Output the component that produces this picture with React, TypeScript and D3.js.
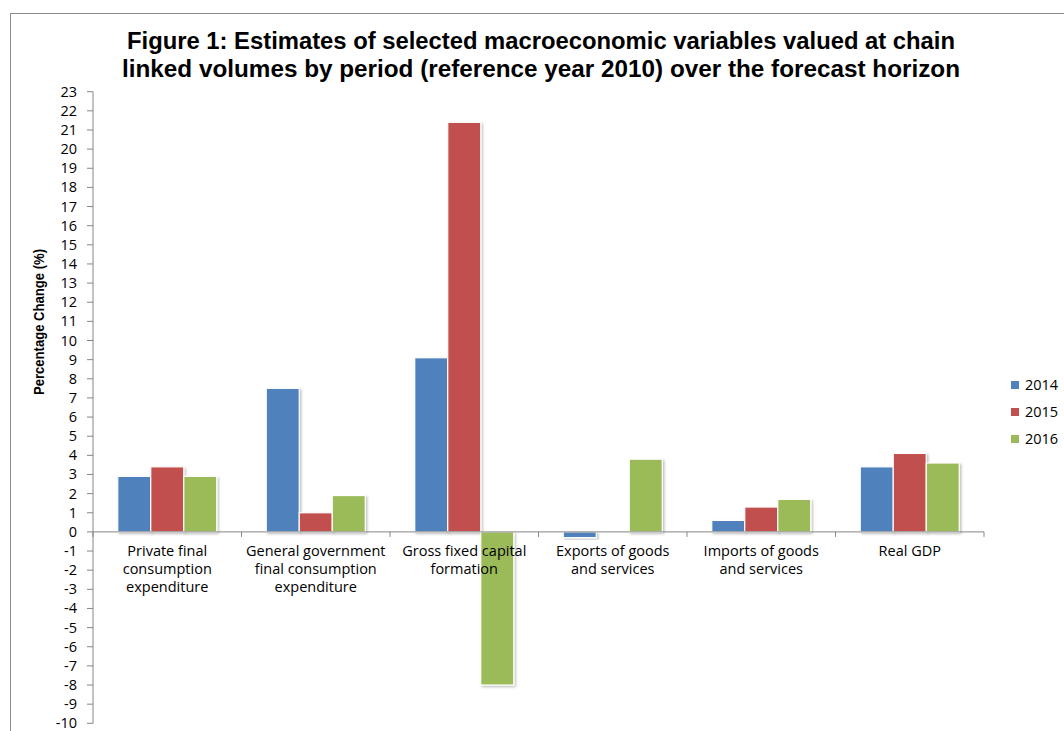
import React from "react";
import * as d3 from "d3";

const categories = [
  ["Private final", "consumption", "expenditure"],
  ["General government", "final consumption", "expenditure"],
  ["Gross fixed capital", "formation"],
  ["Exports of goods", "and services"],
  ["Imports of goods", "and services"],
  ["Real GDP"],
];
const seriesNames = ["2014", "2015", "2016"];
const values2014 = [2.9, 7.5, 9.1, -0.3, 0.6, 3.4];
const values2015 = [3.4, 1.0, 21.4, 0, 1.3, 4.1];
const values2016 = [2.9, 1.9, -8.0, 3.8, 1.7, 3.6];
const colors = ["#4F81BD", "#C0504D", "#9BBB59"];
const yTicks = d3.range(-10, 24, 1);

export default function App() {
  const W = 1064, H = 731;
  const left = 93, right = 984, top = 91.7, bottom = 723.3;
  const x = d3.scaleBand<number>().domain(d3.range(categories.length)).range([left, right]).paddingInner(0).paddingOuter(0);
  const y = d3.scaleLinear().domain([-10, 23]).range([bottom, top]);
  const series = [values2014, values2015, values2016];
  const bw = x.bandwidth() / 4.5;
  const sub = d3.scaleBand<number>().domain([0, 1, 2]).range([0, bw * 3]);
  const y0 = y(0);
  const font = "'Open Sans', sans-serif";
  const fs = 14.5;

  return (
    <svg width={W} height={H} style={{ position: "absolute", left: 0, top: 0, background: "#fff" }}>
      <defs>
        <filter id="sh" x="-20%" y="-20%" width="150%" height="150%">
          <feDropShadow dx="1.5" dy="1.5" stdDeviation="1.2" floodColor="#000" floodOpacity="0.25" />
        </filter>
      </defs>
      <rect x={10.5} y={13.5} width={1070} height={730} fill="none" stroke="#8c8c8c" strokeWidth={1} />
      <text x={541} y={49} textAnchor="middle" fontFamily="'Liberation Sans Narrow', 'Liberation Sans', sans-serif" fontWeight="bold" fontSize={23} fill="#000" textLength={828} lengthAdjust="spacingAndGlyphs">
        Figure 1: Estimates of selected macroeconomic variables valued at chain
      </text>
      <text x={541} y={77} textAnchor="middle" fontFamily="'Liberation Sans Narrow', 'Liberation Sans', sans-serif" fontWeight="bold" fontSize={23} fill="#000" textLength={838} lengthAdjust="spacingAndGlyphs">
        linked volumes by period (reference year 2010) over the forecast horizon
      </text>
      <text transform={`translate(44,${322}) rotate(-90)`} textAnchor="middle" fontFamily="'Liberation Sans Narrow', 'Liberation Sans', sans-serif" fontWeight="bold" fontSize={14} fill="#000" textLength={146} lengthAdjust="spacingAndGlyphs">
        Percentage Change (%)
      </text>
      {/* bars */}
      {series.map((vals, si) =>
        vals.map((v, ci) => {
          if (v === 0 || v == null) return null;
          const bx = (x(ci) as number) + (x.bandwidth() - bw * 3) / 2 + (sub(si) as number);
          const yt = y(Math.max(0, v));
          const h = Math.abs(y(v) - y0);
          return (
            <rect key={`${si}-${ci}`} x={bx} y={yt} width={bw} height={h} fill={colors[si]} stroke="#fff" strokeWidth={1.2} filter="url(#sh)" />
          );
        })
      )}
      {/* y axis */}
      <line x1={left} x2={left} y1={top} y2={bottom} stroke="#868686" />
      {yTicks.map((t) => (
        <g key={t}>
          <line x1={left - 6} x2={left} y1={y(t)} y2={y(t)} stroke="#868686" />
          <text x={left - 16} y={y(t) + 5} textAnchor="end" fontFamily={font} fontSize={fs} fill="#000">{t}</text>
        </g>
      ))}
      {/* x axis at zero */}
      <line x1={left} x2={right} y1={y0} y2={y0} stroke="#868686" />
      {d3.range(categories.length + 1).map((i) => {
        const xx = left + i * x.step();
        return <line key={i} x1={xx} x2={xx} y1={y0} y2={y0 + 5} stroke="#868686" />;
      })}
      {categories.map((lines, ci) => (
        <text key={ci} textAnchor="middle" fontFamily={font} fontSize={fs} fill="#000">
          {lines.map((l, li) => (
            <tspan key={li} x={(x(ci) as number) + x.bandwidth() / 2} y={y0 + 24 + li * 18}>{l}</tspan>
          ))}
        </text>
      ))}
      {/* legend */}
      {seriesNames.map((s, i) => (
        <g key={s}>
          <rect x={1011} y={381 + i * 27} width={8} height={8} fill={colors[i]} />
          <text x={1025} y={390 + i * 27} fontFamily={font} fontSize={fs} fill="#000">{s}</text>
        </g>
      ))}
    </svg>
  );
}
